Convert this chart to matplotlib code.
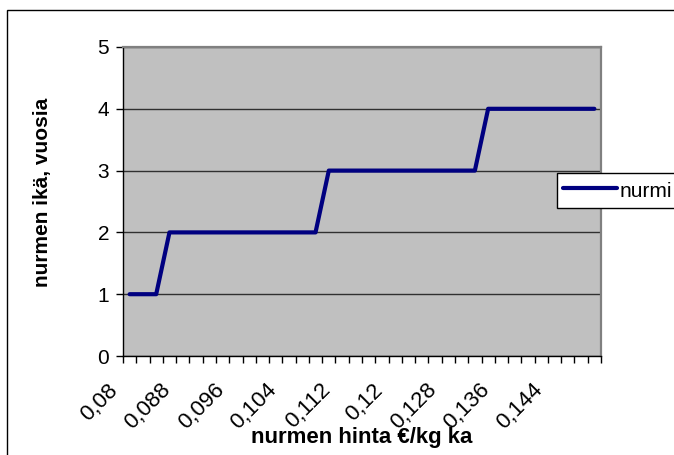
import matplotlib
matplotlib.use('Agg')
import matplotlib.pyplot as plt
from matplotlib import transforms
from matplotlib.patches import Rectangle

# nurmen hinta (€/kg ka) categories and resulting age
hinta = [0.080, 0.082, 0.084, 0.086, 0.088, 0.090, 0.092, 0.094, 0.096,
         0.098, 0.100, 0.102, 0.104, 0.106, 0.108, 0.110, 0.112, 0.114,
         0.116, 0.118, 0.120, 0.122, 0.124, 0.126, 0.128, 0.130, 0.132,
         0.134, 0.136, 0.138, 0.140, 0.142, 0.144, 0.146, 0.148, 0.150]
ika = [1, 1, 1,
       2, 2, 2, 2, 2, 2, 2, 2, 2, 2, 2, 2,
       3, 3, 3, 3, 3, 3, 3, 3, 3, 3, 3, 3,
       4, 4, 4, 4, 4, 4, 4, 4, 4]
tick_labels = ['0,08', '0,088', '0,096', '0,104', '0,112', '0,12',
               '0,128', '0,136', '0,144']
label_every = 4

plt.rcParams['font.family'] = ['Liberation Sans', 'DejaVu Sans']

fig = plt.figure(figsize=(6.74, 4.55), dpi=100)
W, H = 674, 455
ax = fig.add_axes([123 / W, 1 - 356 / H, 478 / W, 309 / H])
ax.set_facecolor('#c0c0c0')

x = list(range(len(hinta)))
ax.plot(x, ika, color='#000080', lw=3.0, solid_capstyle='round',
        solid_joinstyle='round', label='nurmi', zorder=3)

ax.set_xlim(-0.5, len(hinta) - 0.5)
ax.set_ylim(0, 5)
ax.set_yticks([0, 1, 2, 3, 4, 5])
ax.tick_params(axis='y', direction='out', length=5, labelsize=15, pad=5,
               color='black', width=1)
ax.grid(axis='y', color='#303030', lw=1, zorder=1)

ax.set_xticks([])
ax.set_xticks([i - 0.5 for i in range(len(hinta) + 1)], minor=True)
ax.tick_params(axis='x', which='minor', direction='out', length=5,
               color='black', width=1)

for s in ['left', 'bottom']:
    ax.spines[s].set_color('black')
    ax.spines[s].set_linewidth(1)
for s in ['top', 'right']:
    ax.spines[s].set_color('#808080')
    ax.spines[s].set_linewidth(1.6)

# rotated category labels
trans = transforms.blended_transform_factory(ax.transData, ax.transAxes) + \
    transforms.ScaledTranslation(-0.15, -0.31, fig.dpi_scale_trans)
for k, lab in enumerate(tick_labels):
    ax.text(x[k * label_every], 0, lab, transform=trans, rotation=45,
            ha='right', va='center', rotation_mode='anchor', fontsize=16,
            clip_on=False)

fig.text(43 / W, 1 - 192 / H, 'nurmen ikä, vuosia', rotation=90,
         fontsize=15, fontweight='bold', ha='center', va='center')
fig.text(362 / W, 1 - 437 / H, 'nurmen hinta €/kg ka', fontsize=16,
         fontweight='bold', ha='center', va='center')

leg = ax.legend(loc='upper left', bbox_to_anchor=(557 / W, 1 - 173 / H),
                bbox_transform=fig.transFigure, frameon=True, fancybox=False,
                edgecolor='black', framealpha=1, fontsize=15,
                handlelength=2.6, handleheight=1.25, handletextpad=0.1,
                borderpad=0.3, borderaxespad=0)
leg.get_frame().set_linewidth(1)

# outer chart border (cut off at right and bottom)
fig.patches.append(Rectangle((7 / W, -1), 2, 2 - 10 / H,
                             transform=fig.transFigure, fill=False,
                             lw=1, edgecolor='black'))

fig.savefig('out.png', dpi=100)
